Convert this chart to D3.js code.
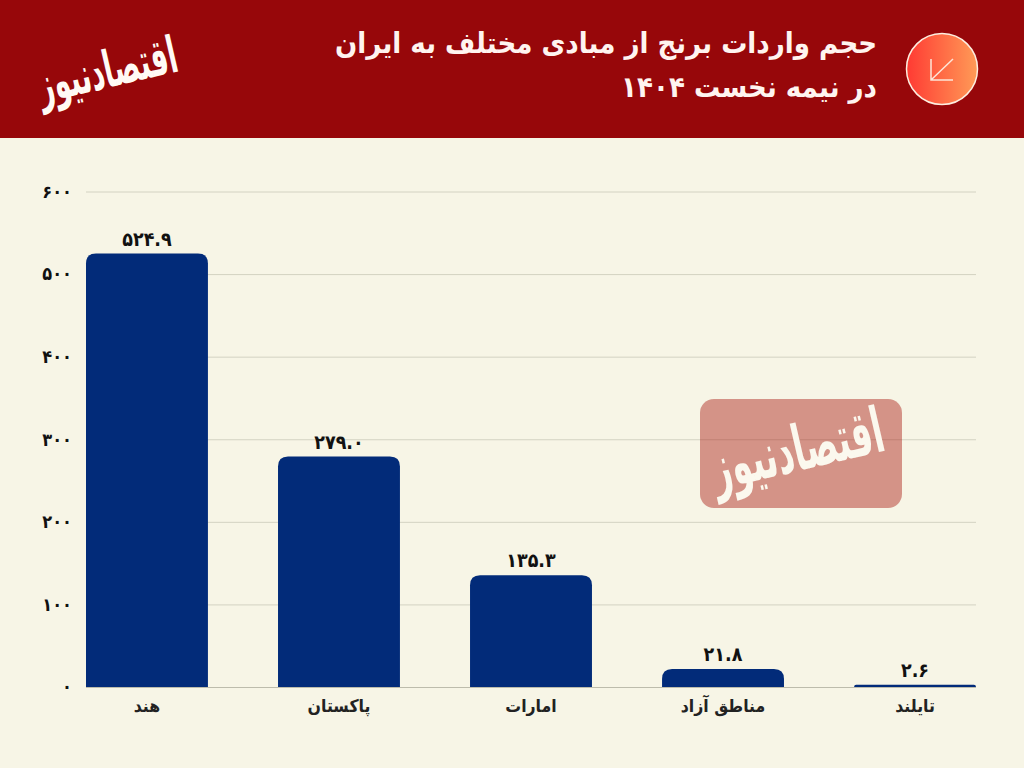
<!DOCTYPE html>
<html lang="fa">
<head>
<meta charset="utf-8">
<script src="https://cdn.jsdelivr.net/npm/d3@7"></script>
<style>
  html, body { margin: 0; padding: 0; background: #f7f5e6; }
  svg { display: block; }
  text { font-family: "DejaVu Sans", sans-serif; font-stretch: condensed; }
</style>
</head>
<body>
<div id="chart"></div>
<script>
const categories = ["هند", "پاکستان", "امارات", "مناطق آزاد", "تایلند"];
const values = [524.9, 279.0, 135.3, 21.8, 2.6];
const yTicks = [0, 100, 200, 300, 400, 500, 600];
const titleLines = ["حجم واردات برنج از مبادی مختلف به ایران", "در نیمه نخست ۱۴۰۴"];
const logoText = "اقتصادنیوز";

const width = 1024, height = 768;
const margin = { top: 191.5, right: 48, bottom: 81, left: 86 };

// western digits to persian digits
const toFa = (s) => String(s).replace(/\d/g, (d) => "۰۱۲۳۴۵۶۷۸۹"[d]);

const svg = d3.select("#chart").append("svg")
  .attr("width", width)
  .attr("height", height);

svg.append("rect").attr("width", width).attr("height", height).attr("fill", "#f7f5e6");

// header
svg.append("rect").attr("width", width).attr("height", 138).attr("fill", "#97070a");

const grad = svg.append("defs").append("linearGradient").attr("id", "badge");
grad.append("stop").attr("offset", "0%").attr("stop-color", "#ff3a33");
grad.append("stop").attr("offset", "100%").attr("stop-color", "#ff9b57");

svg.append("circle")
  .attr("cx", 942).attr("cy", 69).attr("r", 35.5)
  .attr("fill", "url(#badge)")
  .attr("stroke", "#fdeee0").attr("stroke-width", 1.5);

svg.append("path")
  .attr("d", "M953 59L931 80M931 59V80H953")
  .attr("fill", "none")
  .attr("stroke", "#fde6d8")
  .attr("stroke-width", 1.5);

svg.selectAll(".title")
  .data(titleLines)
  .join("text")
  .attr("class", "title")
  .attr("x", 877)
  .attr("y", (d, i) => 53 + i * 44)
  .attr("direction", "rtl")
  .attr("text-anchor", "start")
  .attr("font-size", 29)
  .attr("font-weight", "bold")
  .attr("fill", "#fff4f0")
  .text((d) => d);

// logo is plain text stretched upward, no calligraphic font available
function drawLogo(cx, cy, size, fill) {
  svg.append("text")
    .attr("transform", "translate(" + cx + "," + cy + ") rotate(-13) scale(1,1.7)")
    .attr("direction", "rtl")
    .attr("text-anchor", "middle")
    .attr("font-size", size)
    .attr("font-weight", "bold")
    .attr("fill", fill)
    .text(logoText);
}
drawLogo(111, 87, 30, "#fffaf5");

// scales
const x = d3.scaleBand()
  .domain(categories)
  .range([margin.left, width - margin.right])
  .paddingInner(0.365);

const y = d3.scaleLinear()
  .domain([0, 600])
  .range([height - margin.bottom, margin.top]);

// y axis and grid
const yAxis = svg.append("g")
  .attr("transform", "translate(" + margin.left + ",0)")
  .call(d3.axisLeft(y)
    .tickValues(yTicks)
    .tickFormat(toFa)
    .tickSize(-(width - margin.left - margin.right))
    .tickPadding(14));

yAxis.select(".domain").remove();
yAxis.selectAll("line")
  .attr("stroke", (d) => (d === 0 ? "#bdbcac" : "#d3d2c2"))
  .attr("stroke-width", 1);
yAxis.selectAll("text")
  .attr("font-family", '"DejaVu Sans", sans-serif')
  .attr("font-size", 18)
  .attr("font-weight", "bold")
  .attr("fill", "#111");

// watermark sits over the grid
svg.append("rect")
  .attr("x", 700).attr("y", 399)
  .attr("width", 202).attr("height", 109)
  .attr("rx", 14)
  .attr("fill", "#a81d14")
  .attr("fill-opacity", 0.45);
drawLogo(802, 470, 37, "#fbf8ee");

// bars, rounded on top only
const barPath = (d, i) => {
  const x0 = x(categories[i]), x1 = x0 + x.bandwidth();
  const top = y(d), base = y(0);
  const r = Math.min(10, base - top);
  return "M" + x0 + "," + base + "V" + (top + r) +
    "Q" + x0 + "," + top + " " + (x0 + r) + "," + top +
    "H" + (x1 - r) +
    "Q" + x1 + "," + top + " " + x1 + "," + (top + r) +
    "V" + base + "Z";
};

svg.append("g")
  .attr("fill", "#022b79")
  .selectAll("path")
  .data(values)
  .join("path")
  .attr("d", barPath);

// value labels
svg.append("g")
  .selectAll("text")
  .data(values)
  .join("text")
  .attr("x", (d, i) => x(categories[i]) + x.bandwidth() / 2)
  .attr("y", (d) => y(d) - 8)
  .attr("text-anchor", "middle")
  .attr("font-size", 19.5)
  .attr("font-weight", "bold")
  .attr("fill", "#111")
  .text((d) => toFa(d.toFixed(1)));

// category labels
svg.append("g")
  .selectAll("text")
  .data(categories)
  .join("text")
  .attr("x", (d) => x(d) + x.bandwidth() / 2)
  .attr("y", 712)
  .attr("direction", "rtl")
  .attr("text-anchor", "middle")
  .attr("font-size", 17.5)
  .attr("font-weight", "bold")
  .attr("fill", "#222")
  .text((d) => d);
</script>
</body>
</html>
